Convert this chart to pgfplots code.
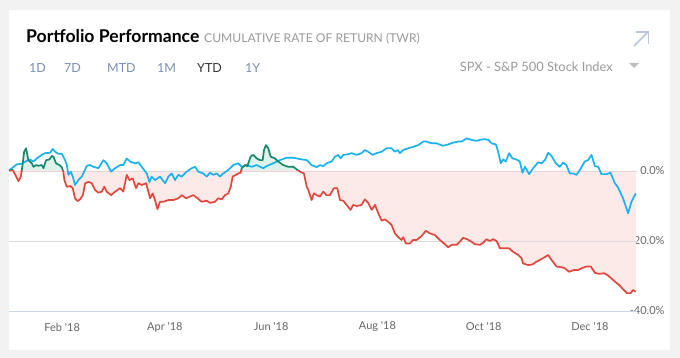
\documentclass[border=0pt]{standalone}
\usepackage{pgfplots}
\pgfplotsset{compat=1.18}
\usepackage{pgfplotstable}
\usepackage{fontspec}
\setmainfont{Lato}
\definecolor{bgcol}{HTML}{F2F2F2}
\definecolor{spxblue}{HTML}{1AB2EE}
\definecolor{portred}{HTML}{E0483D}
\definecolor{portgreen}{HTML}{16876A}
\definecolor{pinkfill}{HTML}{FCEAE8}
\definecolor{greenfill}{HTML}{DDF2EB}
\definecolor{gridgray}{HTML}{DADADA}
\definecolor{zerogray}{HTML}{E2D6D6}
\definecolor{axisblue}{HTML}{C9D4E6}
\definecolor{labelgray}{HTML}{666666}
\definecolor{subgray}{HTML}{9A9A9A}
\definecolor{btnblue}{HTML}{7B8EB5}
\definecolor{arrowcol}{HTML}{B7C5DD}

% day of year (0 = 1 Jan 2018), cumulative return in %
\pgfplotstableread{
x y
0.6 0.1
2.1 0.8
5.0 1.9
7.9 2.1
10.7 2.9
12.6 3.3
14.5 2.7
16.5 3.6
19.3 4.6
21.2 5.1
24.1 5.2
25.6 6.3
27.0 5.5
28.9 4.9
30.8 4.9
32.7 3.1
33.7 1.7
34.6 -1.1
36.0 -0.2
37.1 -1.6
38.4 -4.0
40.3 -2.6
42.3 -1.6
45.2 1.5
47.0 1.7
48.9 1.2
51.8 0.8
54.7 3.1
56.6 2.2
59.1 -0.2
61.4 0.8
64.3 1.7
66.1 1.7
68.1 3.6
70.0 2.7
72.9 2.2
74.8 2.5
76.7 1.2
79.6 -0.7
81.1 -3.2
82.4 -1.6
84.3 -2.6
87.2 -1.6
90.1 -3.5
92.0 -1.6
93.9 -0.7
95.8 -2.6
97.7 -1.1
99.7 -1.6
102.5 -0.2
105.4 0.8
107.3 1.2
109.2 -0.2
112.0 -0.7
114.0 -1.6
115.9 -0.5
117.8 -1.1
119.7 -0.7
121.6 -1.6
123.5 -0.7
126.4 0.3
129.3 1.7
132.1 2.2
134.1 1.2
136.9 1.7
139.8 1.2
142.7 1.7
144.6 1.2
146.5 0.8
148.4 1.4
152.2 2.2
156.0 3.1
159.9 3.8
163.7 3.8
167.5 3.4
171.4 3.1
174.2 1.7
177.1 1.1
179.0 1.7
180.9 1.4
182.8 2.2
185.7 2.7
187.6 4.1
189.5 4.6
190.9 3.6
192.4 4.6
195.2 4.8
197.2 5.1
200.0 4.6
202.9 5.1
204.8 6.0
206.7 5.5
209.2 4.6
211.5 5.1
214.4 5.5
217.3 6.5
220.1 6.5
222.0 5.5
223.6 6.0
224.9 5.1
226.8 6.0
229.7 6.5
232.5 6.9
235.4 7.4
238.3 8.4
240.2 8.4
243.1 7.9
245.9 7.9
249.7 7.2
252.6 7.6
255.5 8.1
258.3 8.4
260.3 8.4
263.2 9.3
266.0 8.9
268.9 8.6
270.8 8.9
273.7 9.1
275.6 8.9
277.5 7.9
280.0 7.6
281.3 5.5
282.8 2.2
284.2 3.3
285.7 2.7
287.6 5.1
289.5 3.6
291.8 3.3
293.7 2.7
295.3 -0.5
296.6 1.2
299.1 -0.9
301.4 0.8
304.3 2.5
306.2 2.2
308.1 3.1
310.0 5.2
311.9 4.3
314.4 2.2
316.7 1.2
318.6 2.4
320.5 1.7
322.4 -0.7
324.3 -0.7
326.3 -1.1
328.2 0.3
331.0 2.7
332.9 3.1
334.9 4.6
336.8 1.4
338.7 1.2
340.6 -0.9
343.5 -0.9
345.8 -0.5
348.3 -3.5
350.1 -4.7
353.0 -7.8
355.9 -12.1
357.8 -8.8
360.3 -6.4
}\spxdata

\pgfplotstableread{
x y
0.6 0.1
2.7 0.3
4.6 -1.6
5.9 -2.9
7.3 -1.6
8.4 2.2
9.2 5.5
10.3 6.5
11.6 3.1
13.6 2.2
14.5 1.2
16.1 1.7
17.4 1.5
19.3 1.7
20.3 0.8
21.8 3.1
23.7 3.3
25.1 4.3
26.0 4.1
27.5 2.2
29.4 1.7
30.8 1.1
31.7 -0.2
32.3 -2.6
33.7 -4.5
35.6 -4.3
37.1 -4.9
38.4 -7.8
39.8 -8.6
41.3 -8.1
42.9 -6.9
44.2 -3.5
46.1 -3.1
48.0 -3.5
49.9 -5.4
51.8 -6.2
53.8 -5.9
55.2 -4.5
56.6 -5.9
59.1 -6.9
61.4 -5.9
64.3 -4.9
66.1 -5.9
68.1 -1.1
69.6 -2.6
71.5 -2.1
73.4 -4.9
74.8 -3.5
76.7 -4.0
79.2 -3.5
80.5 -5.9
81.5 -7.8
83.0 -6.4
84.3 -8.3
85.7 -10.9
87.2 -8.8
89.1 -8.8
92.0 -8.3
94.8 -8.3
97.7 -7.8
99.7 -6.9
102.1 -7.8
104.4 -7.3
106.3 -6.9
108.8 -7.8
111.1 -8.8
114.0 -8.5
115.9 -9.1
118.8 -8.8
120.6 -7.8
122.6 -8.1
124.5 -6.9
126.4 -6.4
127.8 -4.5
128.9 -1.6
130.8 -1.1
132.1 -0.7
133.5 -0.5
134.1 0.8
136.0 1.7
137.3 1.4
139.2 4.1
140.7 4.6
142.7 3.6
144.6 3.1
146.1 3.1
146.9 6.0
148.0 7.4
149.3 6.5
150.7 4.1
153.2 3.6
155.1 2.7
157.9 1.7
160.8 1.2
163.7 1.2
165.6 0.5
167.5 -0.2
169.8 -0.7
171.4 -4.5
172.3 -5.4
174.2 -8.3
175.5 -6.4
177.1 -6.9
179.0 -7.3
180.9 -5.9
182.8 -6.9
184.7 -6.9
187.0 -4.9
188.9 -4.9
190.5 -8.3
192.4 -8.5
194.3 -9.7
196.6 -11.1
198.1 -9.7
200.0 -10.0
202.9 -9.7
204.8 -8.1
206.7 -9.1
208.7 -11.1
210.6 -9.7
212.5 -12.1
214.4 -14.2
216.3 -13.8
218.2 -14.5
220.1 -15.4
222.0 -17.8
223.9 -18.9
225.9 -19.7
226.8 -18.9
228.3 -20.7
230.6 -20.7
232.5 -19.7
234.5 -19.7
237.3 -18.6
239.8 -17.1
242.1 -17.8
245.0 -18.3
247.8 -19.7
250.7 -20.9
252.6 -21.8
254.6 -21.1
257.4 -21.1
259.3 -20.2
261.2 -19.1
263.5 -19.5
266.0 -20.2
267.9 -20.9
270.8 -21.1
272.7 -20.5
274.6 -19.5
276.5 -20.0
278.4 -19.5
280.4 -20.0
282.3 -22.1
285.1 -22.1
287.6 -22.1
289.9 -23.1
292.8 -24.0
294.7 -24.9
295.6 -26.4
298.5 -26.9
301.0 -26.7
303.3 -25.9
305.2 -25.4
307.1 -24.9
310.0 -24.0
311.9 -25.4
314.8 -27.3
317.7 -27.5
319.6 -27.8
322.0 -28.8
324.7 -28.3
327.2 -28.3
329.1 -27.8
332.0 -27.3
334.5 -27.3
336.8 -29.1
339.3 -29.4
342.0 -29.2
343.9 -29.7
346.4 -30.7
348.3 -31.6
350.8 -32.6
353.0 -33.8
355.3 -34.9
357.3 -34.9
358.8 -34.0
360.3 -34.5
}\portdata

\begin{document}
\begin{tikzpicture}
% background and card
\fill[bgcol] (0pt,0pt) rectangle (680pt,358pt);
\fill[white] (9pt,8pt) rectangle (670pt,348pt);

% header
\node[anchor=base west, inner sep=0pt] at (26pt,315pt) {\fontsize{17.6}{20}\selectfont\bfseries Portfolio Performance};
\node[anchor=base west, inner sep=0pt, text=subgray] at (204pt,315pt) {\fontsize{12.1}{14}\selectfont CUMULATIVE RATE OF RETURN (TWR)};
\begin{scope}[every node/.style={anchor=base west, inner sep=0pt, font=\fontsize{12.5}{14}\selectfont}]
\node[text=btnblue] at (29pt,285pt) {1D};
\node[text=btnblue] at (64pt,285pt) {7D};
\node[text=btnblue] at (107pt,285pt) {MTD};
\node[text=btnblue] at (157pt,285pt) {1M};
\node[text=black!80] at (197pt,285pt) {YTD};
\node[text=btnblue] at (245pt,285pt) {1Y};
\end{scope}
\node[anchor=base east, inner sep=0pt, text=subgray] at (613pt,286pt) {\fontsize{12.9}{15}\selectfont SPX - S\&P 500 Stock Index};
\fill[black!25] (629pt,295pt) -- (639pt,295pt) -- (634pt,290pt) -- cycle;
% expand icon
\draw[arrowcol, line width=1.6pt] (634pt,312pt) -- (648pt,326pt);
\draw[arrowcol, line width=1.6pt] (636pt,326pt) -- (648.5pt,326pt) -- (648.5pt,314pt);

\begin{axis}[
  at={(9pt,47pt)}, anchor=south west,
  scale only axis, width=628pt, height=196pt,
  xmin=0.5, xmax=361, ymin=-40, ymax=16,
  axis line style={draw=none},
  tick style={draw=none},
  xtick={31,90,151,212,273,334},
  xticklabels={Feb \textquotesingle18, Apr \textquotesingle18, Jun \textquotesingle18, Aug \textquotesingle18, Oct \textquotesingle18, Dec \textquotesingle18},
  xticklabel style={anchor=center, yshift=-16pt, text=labelgray, font=\fontsize{11}{13}\selectfont},
  ytick={-40,-20,0},
  yticklabels={-40.0\%, -20.0\%, 0.0\%},
  yticklabel pos=right,
  yticklabel style={anchor=east, xshift=31pt, text=labelgray, font=\fontsize{11}{13}\selectfont},
  clip=false,
]
% shaded areas between the portfolio line and 0
\begin{scope}
\clip (axis cs:0.5,0) rectangle (axis cs:361,16);
\addplot[fill=greenfill, draw=none] table {\portdata} -- (axis cs:360.3,0) -- (axis cs:0.6,0) -- cycle;
\end{scope}
\begin{scope}
\clip (axis cs:0.5,0) rectangle (axis cs:361,-40);
\addplot[fill=pinkfill, draw=none] table {\portdata} -- (axis cs:360.3,0) -- (axis cs:0.6,0) -- cycle;
\end{scope}

\addplot[zerogray, line width=0.8pt] coordinates {(0.5,0) (361,0)};
\addplot[gridgray, line width=0.8pt] coordinates {(0.5,-20) (361,-20)};
\addplot[axisblue, line width=0.8pt] coordinates {(0.5,-40) (361,-40)};

\addplot[spxblue, line width=1.7pt, line join=round] table {\spxdata};

\begin{scope}
\clip (axis cs:0.5,0) rectangle (axis cs:361,16);
\addplot[portgreen, line width=1.7pt, line join=round] table {\portdata};
\end{scope}
\begin{scope}
\clip (axis cs:0.5,0) rectangle (axis cs:361,-40);
\addplot[portred, line width=1.7pt, line join=round] table {\portdata};
\end{scope}
\end{axis}
\end{tikzpicture}
\end{document}
